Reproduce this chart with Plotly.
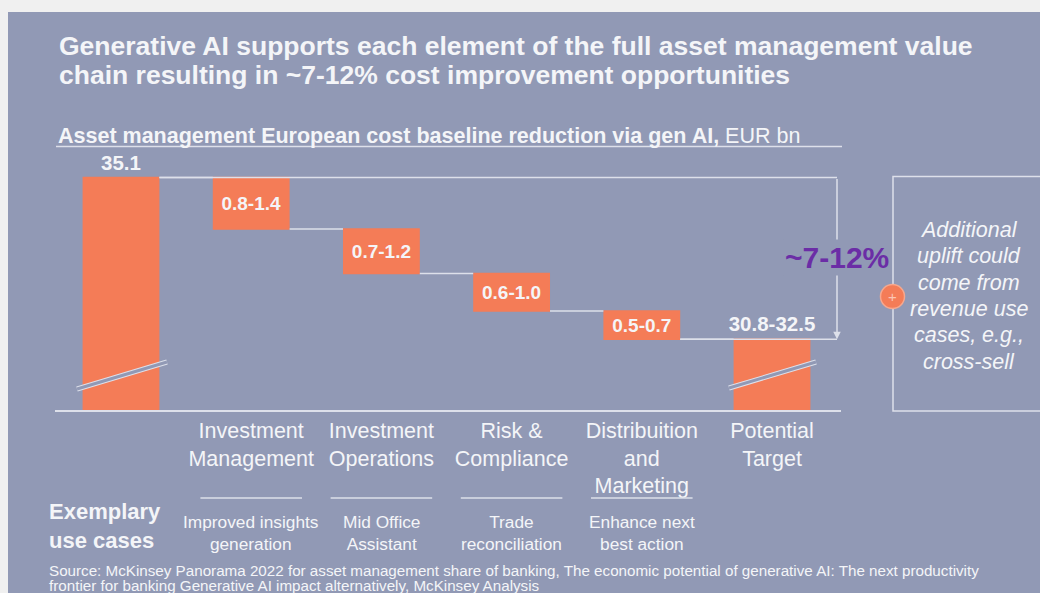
import plotly.graph_objects as go

# --- data ---
steps = ["Baseline", "Investment Management", "Investment Operations",
         "Risk & Compliance", "Distribution and Marketing", "Potential Target"]
tick_labels = ["", "Investment<br>Management", "Investment<br>Operations",
               "Risk &<br>Compliance", "Distribuition<br>and<br>Marketing",
               "Potential<br>Target"]
measures = ["absolute", "relative", "relative", "relative", "relative", "total"]
baseline = 35.1
saving_low = [0.8, 0.7, 0.6, 0.5]
saving_high = [1.4, 1.2, 1.0, 0.7]
target_range = [30.8, 32.5]
use_cases = ["Improved insights<br>generation", "Mid Office<br>Assistant",
             "Trade<br>reconciliation", "Enhance next<br>best action"]
box_lines = ["Additional", "uplift could", "come from", "revenue use",
             "cases, e.g.,", "cross-sell"]
title_lines = ["Generative AI supports each element of the full asset management value",
               "chain resulting in ~7-12% cost improvement opportunities"]
source_lines = ["Source: McKinsey Panorama 2022 for asset management share of banking, "
                "The economic potential of generative AI: The next productivity",
                "frontier for banking Generative AI impact alternatively, McKinsey Analysis"]

saving_mid = [(lo + hi) / 2 for lo, hi in zip(saving_low, saving_high)]
target_mid = baseline - sum(saving_mid)
bar_values = [baseline] + [-m for m in saving_mid] + [0]
bar_text = ([f"{baseline}"] + [f"{lo}-{hi}" for lo, hi in zip(saving_low, saving_high)]
            + [f"{target_range[0]}-{target_range[1]}"])

# --- styles ---
PANEL = "#9199b5"
ORANGE = "#f47c57"
LIGHT = "#dde0ea"
TEXT = "#f4f5f8"
PURPLE = "#6b2da6"
FONT = "Liberation Sans, Arial, sans-serif"

W, H = 1040, 593
L, R, T, B = 55, 199, 140, 183          # plot area: x 55..841, y 140..410
CAT0, STEP = 121, 130.2                  # pixel centre of first bar, spacing
BAR_W = 0.59
Y0, PX_PER_UNIT = 30.14, 46.9


def px(x):
    return (x - L) / (W - L - R)


def py(y):
    return (H - B - y) / (H - T - B)


def cx(x):
    return (x - CAT0) / STEP


arrow_x = cx(837)

fig = go.Figure(go.Waterfall(
    x=steps,
    y=bar_values,
    measure=measures,
    text=bar_text,
    textposition=["outside", "inside", "inside", "inside", "inside", "outside"],
    insidetextanchor="middle",
    constraintext="none",
    insidetextfont=dict(family=FONT, size=19, color=TEXT, weight="bold"),
    outsidetextfont=dict(family=FONT, size=20.5, color=TEXT, weight="bold"),
    width=BAR_W,
    increasing=dict(marker=dict(color=ORANGE)),
    decreasing=dict(marker=dict(color=ORANGE)),
    totals=dict(marker=dict(color=ORANGE)),
    connector=dict(mode="between", line=dict(color=LIGHT, width=1.5)),
    hoverinfo="skip",
))

shapes = [
    # slide panel
    dict(type="rect", xref="paper", yref="paper", x0=px(8), x1=px(1060),
         y0=py(12), y1=py(610), fillcolor=PANEL, line_width=0, layer="below"),
    # subtitle underline
    dict(type="line", xref="paper", yref="paper", x0=px(56), x1=px(842),
         y0=py(146.5), y1=py(146.5), line=dict(color=LIGHT, width=1.5)),
    # reference lines for the bracket
    dict(type="line", xref="x", yref="y", x0=BAR_W / 2, x1=arrow_x,
         y0=baseline, y1=baseline, line=dict(color=LIGHT, width=1.5)),
    dict(type="line", xref="x", yref="y", x0=4 + BAR_W / 2, x1=arrow_x,
         y0=target_mid, y1=target_mid, line=dict(color=LIGHT, width=1.5)),
    # right box
    dict(type="rect", xref="paper", yref="paper", x0=px(893), x1=px(1060),
         y0=py(176.5), y1=py(411), line=dict(color=LIGHT, width=1.5)),
    # plus circle
    dict(type="circle", xref="paper", yref="paper", x0=px(880.5), x1=px(904.5),
         y0=py(284.5), y1=py(308.5), fillcolor=ORANGE,
         line=dict(color="#f6a88e", width=1.5)),
]

# axis-break marks on the first and last bar
for (x0, y0, x1, y1) in [(77, 389, 167, 362), (729, 388, 816, 362)]:
    shapes.append(dict(type="line", xref="paper", yref="paper", x0=px(x0), x1=px(x1),
                       y0=py(y0), y1=py(y1), line=dict(color=LIGHT, width=5)))
    shapes.append(dict(type="line", xref="paper", yref="paper", x0=px(x0), x1=px(x1),
                       y0=py(y0), y1=py(y1), line=dict(color=PANEL, width=3)))

# separator lines above use cases
for i in range(1, 5):
    shapes.append(dict(type="line", xref="x", yref="paper", x0=i - 0.39, x1=i + 0.39,
                       y0=py(498), y1=py(498), line=dict(color=LIGHT, width=1.5)))

annotations = [
    dict(xref="paper", yref="paper", x=px(56), y=py(136), xanchor="left", yanchor="middle",
         text="<b>Asset management European cost baseline reduction via gen AI,</b> EUR bn",
         font=dict(size=21.5, color=TEXT), showarrow=False),
    # bracket arrow
    dict(xref="x", yref="y", axref="x", ayref="y", x=arrow_x, y=target_mid,
         ax=arrow_x, ay=baseline, text="", showarrow=True, arrowhead=2,
         arrowsize=1, arrowwidth=1.5, arrowcolor=LIGHT, standoff=0),
    dict(xref="paper", yref="paper", x=px(837), y=py(257), xanchor="center", yanchor="middle",
         text="<b>~7-12%</b>", font=dict(size=30, color=PURPLE), bgcolor=PANEL,
         showarrow=False),
    dict(xref="paper", yref="paper", x=px(892.5), y=py(296.5), xanchor="center",
         yanchor="middle", text="+", font=dict(size=15, color="#fbc6b4"), showarrow=False),
    dict(xref="paper", yref="paper", x=px(47), y=py(526), xanchor="left", yanchor="middle",
         text="<b>Exemplary<br>use cases</b>", align="left",
         font=dict(size=22, color=TEXT), showarrow=False),
]

for k, line in enumerate(title_lines):
    annotations.append(dict(xref="paper", yref="paper", x=px(57), y=py(46 + 29 * k),
                            xanchor="left", yanchor="middle", text=f"<b>{line}</b>",
                            font=dict(size=26.5, color=TEXT), showarrow=False))

for k, line in enumerate(box_lines):
    annotations.append(dict(xref="paper", yref="paper", x=px(969), y=py(230 + 26.3 * k),
                            xanchor="center", yanchor="middle", text=f"<i>{line}</i>",
                            font=dict(size=21.5, color=TEXT), showarrow=False))

for k, line in enumerate(source_lines):
    annotations.append(dict(xref="paper", yref="paper", x=px(47), y=py(570 + 15 * k),
                            xanchor="left", yanchor="middle", text=line,
                            font=dict(size=15.2, color=TEXT), showarrow=False))

for i, uc in enumerate(use_cases, start=1):
    annotations.append(dict(xref="x", yref="paper", x=i, y=py(532.5), xanchor="center",
                            yanchor="middle", text=uc, font=dict(size=17.3, color=TEXT),
                            showarrow=False))

fig.update_layout(
    width=W, height=H,
    margin=dict(l=L, r=R, t=T, b=B, pad=0),
    paper_bgcolor="#f0f0f0",
    plot_bgcolor="rgba(0,0,0,0)",
    font=dict(family=FONT, color=TEXT),
    showlegend=False,
    shapes=shapes,
    annotations=annotations,
    xaxis=dict(
        range=[cx(L), cx(W - R)],
        tickmode="array", tickvals=steps, ticktext=tick_labels,
        tickfont=dict(size=21.5, color=TEXT),
        showline=True, linecolor=LIGHT, linewidth=1.5,
        showgrid=False, zeroline=False, ticks="", fixedrange=True,
    ),
    yaxis=dict(
        range=[Y0, Y0 + (H - T - B) / PX_PER_UNIT],
        visible=False, fixedrange=True,
    ),
)

# page without the default body margin so the figure fills the window
fig.write_html("out.html", config={"displayModeBar": False},
               post_script="document.body.style.margin='0';"
                           "document.body.style.overflow='hidden';"
                           "document.body.style.background='#f0f0f0';")
